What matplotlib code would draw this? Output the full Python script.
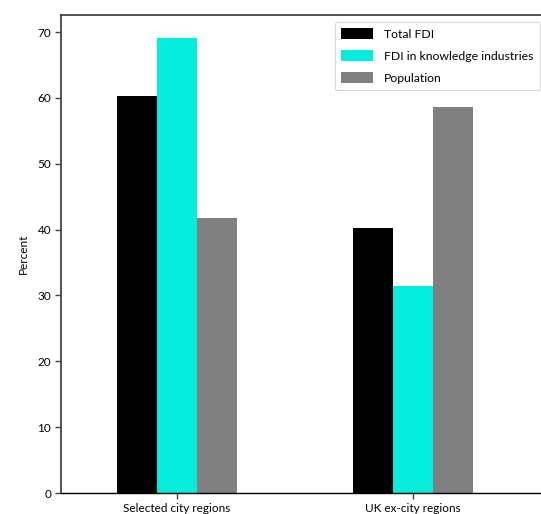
import matplotlib.pyplot as plt
import numpy as np

# === Data ===
categories = ["Selected city regions", "UK ex-city regions"]
total_fdi = [60.3, 40.2]
fdi_knowledge = [69.1, 31.4]
population = [41.7, 58.7]
series_labels = ["Total FDI", "FDI in knowledge industries", "Population"]
colors = ["#000000", "#04ecdc", "#808080"]

plt.rcParams['font.family'] = ['Lato', 'DejaVu Sans']

fig = plt.figure(figsize=(5.41, 5.14), dpi=100)
ax = fig.add_axes([61 / 541, 21 / 514, 486 / 541, 478 / 514])

x = np.arange(len(categories))
width = 0.17
for i, (vals, lab, col) in enumerate(zip([total_fdi, fdi_knowledge, population], series_labels, colors)):
    ax.bar(x + (i - 1) * width, vals, width, label=lab, color=col, linewidth=0)

ax.set_xlim(-0.492, 1.568)
ax.set_ylim(0, 72.6)
ax.set_yticks(range(0, 71, 10))
ax.set_xticks(x)
ax.set_xticklabels(categories)
ax.set_ylabel("Percent", fontsize=8.5, labelpad=6)

for s in ax.spines.values():
    s.set_color("#444444")
    s.set_linewidth(1.3)
ax.spines['right'].set_visible(False)
ax.spines['bottom'].set_color("#000000")
ax.spines['bottom'].set_linewidth(1.0)
ax.tick_params(axis='both', labelsize=8.5, length=4, width=1, color="#444444", pad=3)

leg = ax.legend(loc='upper right', fontsize=8.8, frameon=True, fancybox=True,
                handlelength=2.6, handleheight=0.95, handletextpad=0.9,
                borderpad=0.55, labelspacing=0.85, borderaxespad=0.55)
leg.get_frame().set_edgecolor("#cccccc")
leg.get_frame().set_linewidth(0.8)

plt.savefig("out.png", dpi=100)
plt.close()
